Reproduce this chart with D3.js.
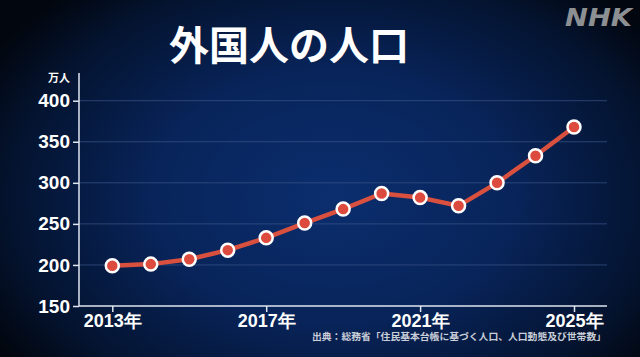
<!DOCTYPE html>
<html>
<head>
<meta charset="utf-8">
<script src="https://cdn.jsdelivr.net/npm/d3@7"></script>
<style>
  html, body { margin: 0; padding: 0; background: #000; }
  svg { display: block; font-family: "Noto Sans CJK JP", "Noto Sans", sans-serif; }
</style>
</head>
<body>
<div id="chart"></div>
<script>
// data
const years = [2013, 2014, 2015, 2016, 2017, 2018, 2019, 2020, 2021, 2022, 2023, 2024, 2025];
const population = [199, 201, 207, 218, 233, 251, 268, 287, 282, 272, 300, 333, 368];
const yTicks = [150, 200, 250, 300, 350, 400];
const xTickYears = [2013, 2017, 2021, 2025];

const width = 640, height = 357;
const svg = d3.select('#chart').append('svg')
  .attr('width', width)
  .attr('height', height);

const defs = svg.append('defs');
const grad = defs.append('radialGradient')
  .attr('id', 'bg')
  .attr('cx', '0.52').attr('cy', '0.55')
  .attr('r', '0.62')
  .attr('gradientTransform', 'translate(0.52,0.55) scale(1,1.25) translate(-0.52,-0.55)');
grad.append('stop').attr('offset', '0%').attr('stop-color', '#0b2e6e');
grad.append('stop').attr('offset', '45%').attr('stop-color', '#08245a');
grad.append('stop').attr('offset', '80%').attr('stop-color', '#041431');
grad.append('stop').attr('offset', '100%').attr('stop-color', '#02060e');

svg.append('rect').attr('width', width).attr('height', height).attr('fill', 'url(#bg)');

// title + logo
svg.append('text')
  .attr('x', 289).attr('y', 60)
  .attr('text-anchor', 'middle')
  .attr('fill', '#fff')
  .attr('font-size', 40)
  .attr('font-weight', 'bold')
  .text('外国人の人口');

svg.append('text')
  .attr('x', 565).attr('y', 25.5)
  .attr('fill', '#8d9093')
  .attr('font-family', 'DejaVu Sans, sans-serif')
  .attr('font-size', 24)
  .attr('font-weight', 'bold')
  .attr('font-style', 'italic')
  .attr('textLength', 67)
  .attr('lengthAdjust', 'spacingAndGlyphs')
  .text('NHK');

const x = d3.scaleLinear().domain([2013, 2025]).range([112.3, 574]);
const y = d3.scaleLinear().domain([150, 400]).range([306, 100.7]);

const left = 79, right = 607;

// gridlines
svg.append('g')
  .selectAll('line')
  .data(yTicks.slice(1))
  .enter()
  .append('line')
  .attr('x1', left).attr('x2', right)
  .attr('y1', d => y(d)).attr('y2', d => y(d))
  .attr('stroke', '#3a5688')
  .attr('stroke-opacity', 0.7)
  .attr('stroke-width', 1);

// y axis
const yAxis = d3.axisLeft(y).tickValues(yTicks).tickSize(6).tickPadding(3);
const gy = svg.append('g')
  .attr('transform', `translate(${left},0)`)
  .call(yAxis);
gy.select('.domain').remove();
gy.append('line')
  .attr('x1', 0).attr('x2', 0).attr('y1', 73).attr('y2', y(150))
  .attr('stroke', '#dfe6f0').attr('stroke-width', 1.5);
gy.selectAll('.tick line').attr('stroke', '#dfe6f0').attr('stroke-width', 1.5);
gy.selectAll('.tick text')
  .attr('fill', '#fff')
  .attr('font-size', 19)
  .attr('font-weight', 'bold')
  .attr('font-family', 'Liberation Sans, Arial, sans-serif');

svg.append('text')
  .attr('x', 70).attr('y', 82)
  .attr('text-anchor', 'end')
  .attr('fill', '#fff')
  .attr('font-size', 11)
  .attr('font-weight', 'bold')
  .text('万人');

// x axis
const xAxis = d3.axisBottom(x)
  .tickValues(xTickYears)
  .tickSize(6)
  .tickPadding(2)
  .tickFormat(d => d + '年');
const gx = svg.append('g')
  .attr('transform', `translate(0,${y(150)})`)
  .call(xAxis);
gx.select('.domain').remove();
gx.append('line')
  .attr('x1', left).attr('x2', right).attr('y1', 0).attr('y2', 0)
  .attr('stroke', '#dfe6f0').attr('stroke-width', 1.5);
gx.selectAll('.tick line').attr('stroke', '#dfe6f0').attr('stroke-width', 1.5);
gx.selectAll('.tick text')
  .attr('fill', '#fff')
  .attr('font-size', 18)
  .attr('font-weight', 'bold');

// line + points
const pts = years.map((yr, i) => [yr, population[i]]);
svg.append('path')
  .datum(pts)
  .attr('d', d3.line().x(d => x(d[0])).y(d => y(d[1])))
  .attr('fill', 'none')
  .attr('stroke', '#d9503f')
  .attr('stroke-width', 4.5)
  .attr('stroke-linejoin', 'round');

svg.append('g')
  .selectAll('circle')
  .data(pts)
  .enter()
  .append('circle')
  .attr('cx', d => x(d[0]))
  .attr('cy', d => y(d[1]))
  .attr('r', 6.5)
  .attr('fill', '#dc4b3e')
  .attr('stroke', '#fff')
  .attr('stroke-width', 2.5);

// source
svg.append('text')
  .attr('x', 312).attr('y', 340)
  .attr('fill', '#c9ced8')
  .attr('font-size', 9.5)
  .attr('font-weight', 'bold')
  .attr('textLength', 294)
  .attr('lengthAdjust', 'spacingAndGlyphs')
  .text('出典：総務省「住民基本台帳に基づく人口、人口動態及び世帯数」');
</script>
</body>
</html>
